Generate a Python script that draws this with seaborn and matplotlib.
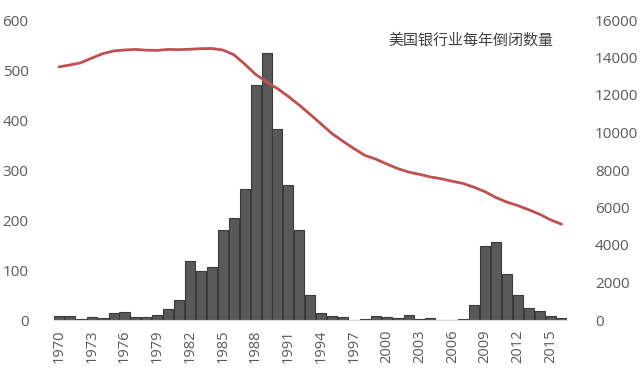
import numpy as np
import pandas as pd
import matplotlib
matplotlib.use('Agg')
import matplotlib.pyplot as plt
import seaborn as sns

# Data
years = list(range(1970, 2017))
failures = [8, 8, 3, 6, 4, 14, 17, 6, 7, 10,
            22, 40, 119, 99, 106, 180, 204, 262, 470, 534,
            382, 271, 181, 50, 15, 8, 6, 1, 3, 8,
            7, 4, 11, 3, 4, 0, 0, 3, 30, 148,
            157, 92, 51, 24, 18, 8, 5]
banks = [13500, 13600, 13720, 13970, 14200, 14350, 14400, 14430, 14390, 14380,
         14430, 14420, 14440, 14470, 14480, 14400, 14150, 13650, 13100, 12700,
         12340, 11920, 11460, 10960, 10450, 9940, 9530, 9140, 8780, 8580,
         8320, 8080, 7890, 7770, 7630, 7530, 7400, 7280, 7080, 6840,
         6530, 6290, 6100, 5880, 5640, 5340, 5110]
label = '美国银行业每年倒闭数量'

df = pd.DataFrame({'year': [str(y) for y in years], 'failures': failures, 'banks': banks})

sns.set_style('white')
plt.rcParams['font.family'] = ['Open Sans', 'Noto Sans CJK SC', 'DejaVu Sans']

fig = plt.figure(figsize=(6.41, 3.81), dpi=100)
ax = fig.add_axes([53.5 / 641, 61 / 381, 513.5 / 641, 300 / 381])

sns.barplot(data=df, x='year', y='failures', color='#595959', edgecolor='#3a3a3a',
            linewidth=0.8, width=0.92, saturation=1, ax=ax)
ax.set_xlim(-0.5, len(years) - 0.5)
ax.set_ylim(0, 600)
ax.set_yticks(range(0, 601, 100))
ax.set_xticks(range(0, len(years), 3))
ax.set_xticklabels([str(y) for y in years[::3]], rotation=90)
ax.set_xlabel('')
ax.set_ylabel('')

ax2 = ax.twinx()
sns.lineplot(x=np.arange(len(years)), y=banks, color='#C0504D', linewidth=2.0, ax=ax2)
ax2.set_ylim(0, 16000)
ax2.set_yticks(range(0, 16001, 2000))
ax2.set_ylabel('')

for a in (ax, ax2):
    for s in a.spines.values():
        s.set_visible(False)
    a.tick_params(length=0, colors='#595959', labelsize=11)
ax.spines['bottom'].set_visible(True)
ax.spines['bottom'].set_color('#d9d9d9')
ax.tick_params(axis='x', labelsize=10.5, pad=7)
ax.tick_params(axis='y', pad=18)
ax2.tick_params(axis='y', pad=20)

fig.text(388 / 641, 1 - 40 / 381, label, fontsize=10.8, color='#404040',
         va='center', ha='left', weight='medium',
         family=['Noto Sans CJK SC', 'DejaVu Sans'])

fig.savefig('out.png', dpi=100)
